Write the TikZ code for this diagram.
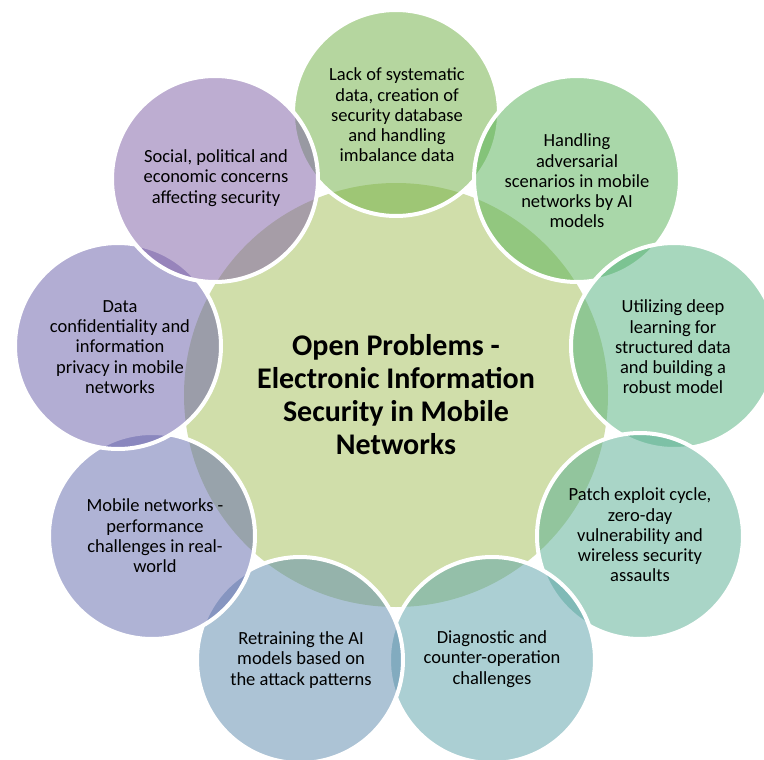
\documentclass[tikz,border=0pt]{standalone}
\usepackage{fontspec}
\setmainfont{Carlito}
\definecolor{cCenter}{RGB}{208,222,170}
\definecolor{cA}{RGB}{109,175,65}
\definecolor{cB}{RGB}{85,177,85}
\definecolor{cC}{RGB}{81,177,125}
\definecolor{cD}{RGB}{85,173,145}
\definecolor{cE}{RGB}{89,161,169}
\definecolor{cF}{RGB}{91,137,173}
\definecolor{cG}{RGB}{97,105,173}
\definecolor{cH}{RGB}{103,93,169}
\definecolor{cI}{RGB}{125,93,165}
\begin{document}
\begin{tikzpicture}[x=1pt,y=-1pt,
  bub/.style={circle, minimum size=206pt, inner sep=0pt, draw=white, line width=4pt, fill opacity=0.5, draw opacity=1},
  hub/.style={circle, minimum size=424pt, inner sep=0pt, fill=cCenter},
  lab/.style={align=center, font=\fontsize{18.5}{20.3}\selectfont, text=black, inner sep=0pt},
  ctr/.style={align=center, font=\fontsize{30}{33}\selectfont\bfseries, text=black, inner sep=0pt}]
\useasboundingbox (0,0) rectangle (764,760);
\fill[white] (0,0) rectangle (764,760);
\node[hub] (hub) at (396,395) {};
\node[bub, fill=cA] (c1) at (396,113) {};
\node[bub, fill=cB] (c2) at (577,179) {};
\node[bub, fill=cC] (c3) at (674,346) {};
\node[bub, fill=cD] (c4) at (640,536) {};
\node[bub, fill=cE] (c5) at (492,660) {};
\node[bub, fill=cF] (c6) at (300,660) {};
\node[bub, fill=cG] (c7) at (152,536) {};
\node[bub, fill=cH] (c8) at (118,346) {};
\node[bub, fill=cI] (c9) at (215,179) {};
\node[ctr] (tc) at (hub) {Open Problems -\\Electronic Information\\Security in Mobile\\Networks};
\node[lab] (t1) at (397,115) {Lack of systematic\\data, creation of\\security database\\and handling\\imbalance data};
\node[lab] (t2) at (577,181) {Handling\\adversarial\\scenarios in mobile\\networks by AI\\models};
\node[lab] (t3) at (673,347) {Utilizing deep\\learning for\\structured data\\and building a\\robust model};
\node[lab] (t4) at (640,535) {Patch exploit cycle,\\zero-day\\vulnerability and\\wireless security\\assaults};
\node[lab] (t5) at (492,659) {Diagnostic and\\counter-operation\\challenges};
\node[lab] (t6) at (301,660) {Retraining the AI\\models based on\\the attack patterns};
\node[lab] (t7) at (155,536) {Mobile networks -\\performance\\challenges in real-\\world};
\node[lab] (t8) at (120,347) {Data\\confidentiality and\\information\\privacy in mobile\\networks};
\node[lab] (t9) at (216,178) {Social, political and\\economic concerns\\affecting security};
\end{tikzpicture}
\end{document}
